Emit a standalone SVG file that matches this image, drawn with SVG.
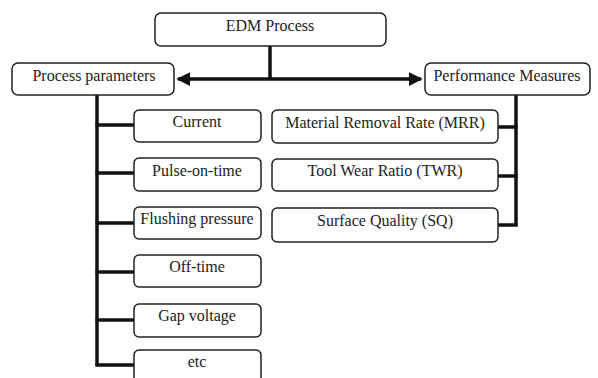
<svg xmlns="http://www.w3.org/2000/svg" width="598" height="378" viewBox="0 0 598 378">
<style>
.box{fill:#fff;stroke:#222;stroke-width:1.5}
.t{font-family:'Liberation Serif','Times New Roman','DejaVu Serif',serif;font-size:16px;fill:#222;text-anchor:middle}
.c{stroke:#111;stroke-width:3.5;fill:none}
</style>
<defs>
<marker id="ah" markerWidth="4" markerHeight="4" refX="3.5" refY="2" orient="auto" markerUnits="strokeWidth">
<path d="M0,0 L4,2 L0,4 Z" fill="#111"/>
</marker>
</defs>
<rect width="598" height="378" fill="#fff"/>
<g id="connectors">
<path class="c" d="M270,46 V79"/>
<path class="c" d="M270,79 H178" marker-end="url(#ah)"/>
<path class="c" d="M270,79 H421" marker-end="url(#ah)"/>
<path class="c" d="M97,95 V366"/>
<path class="c" d="M95.5,125 H134 M95.5,173 H134 M95.5,223 H134 M95.5,272 H134 M95.5,320 H134 M95.5,365 H134"/>
<path class="c" d="M516,95 V226"/>
<path class="c" d="M498,127 H517.5 M498,176 H517.5 M498,225 H517.5"/>
</g>
<g id="edm"><rect class="box" x="155" y="13" width="231" height="33" rx="6"/><text class="t" x="270" y="31">EDM Process</text></g>
<g id="pp"><rect class="box" x="12" y="63" width="162" height="32" rx="6"/><text class="t" x="94" y="81">Process parameters</text></g>
<g id="pm"><rect class="box" x="425" y="63" width="165" height="32" rx="6"/><text class="t" x="507" y="81">Performance Measures</text></g>
<g id="current"><rect class="box" x="134" y="110" width="127" height="32" rx="5"/><text class="t" x="197" y="127">Current</text></g>
<g id="pulse"><rect class="box" x="134" y="158" width="127" height="33" rx="5"/><text class="t" x="197" y="176">Pulse-on-time</text></g>
<g id="flush"><rect class="box" x="134" y="207" width="127" height="32" rx="5"/><text class="t" x="197" y="224">Flushing pressure</text></g>
<g id="off"><rect class="box" x="134" y="255" width="127" height="32" rx="5"/><text class="t" x="197" y="272">Off-time</text></g>
<g id="gap"><rect class="box" x="134" y="304" width="127" height="33" rx="5"/><text class="t" x="197" y="321">Gap voltage</text></g>
<g id="etc"><rect class="box" x="134" y="350" width="127" height="40" rx="5"/><text class="t" x="197" y="367">etc</text></g>
<g id="mrr"><rect class="box" x="272" y="110" width="226" height="33" rx="5"/><text class="t" x="385" y="128">Material Removal Rate (MRR)</text></g>
<g id="twr"><rect class="box" x="272" y="159" width="226" height="32" rx="5"/><text class="t" x="385" y="176">Tool Wear Ratio (TWR)</text></g>
<g id="sq"><rect class="box" x="272" y="208" width="226" height="34" rx="5"/><text class="t" x="385" y="226">Surface Quality (SQ)</text></g>
</svg>
